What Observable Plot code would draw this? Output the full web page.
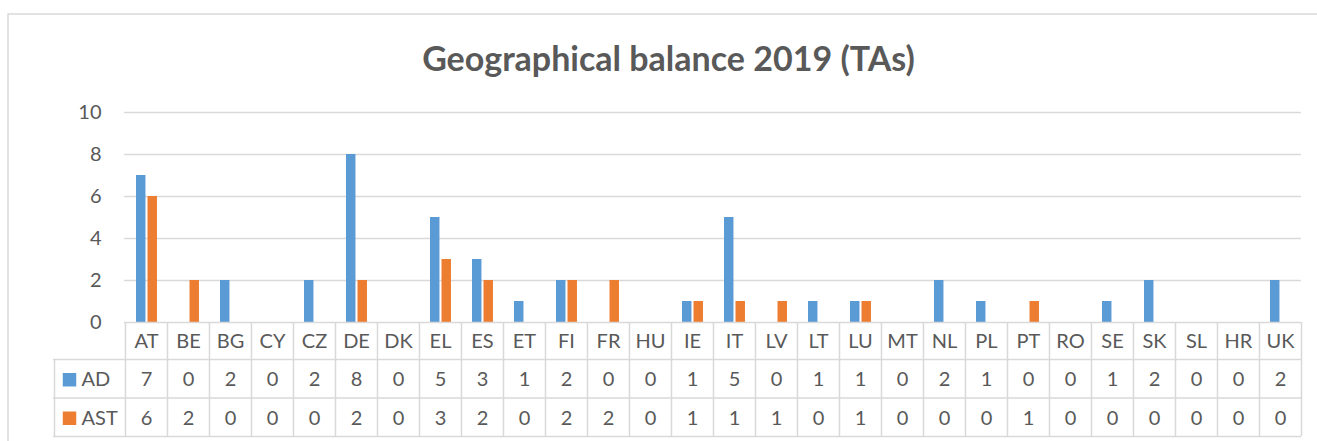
<!DOCTYPE html>
<html>
<head>
<meta charset="utf-8">
<script src="https://cdn.jsdelivr.net/npm/d3@7"></script>
<script src="https://cdn.jsdelivr.net/npm/@observablehq/plot@0.6"></script>
<style>
  html, body { margin: 0; padding: 0; background: #fff; overflow: hidden; }
</style>
</head>
<body>
<div id="chart"></div>
<script>
// ---- data ----
const chartTitle = "Geographical balance 2019 (TAs)";
const countries = ["AT","BE","BG","CY","CZ","DE","DK","EL","ES","ET","FI","FR","HU","IE","IT","LV","LT","LU","MT","NL","PL","PT","RO","SE","SK","SL","HR","UK"];
const AD  = [7,0,2,0,2,8,0,5,3,1,2,0,0,1,5,0,1,1,0,2,1,0,0,1,2,0,0,2];
const AST = [6,2,0,0,0,2,0,3,2,0,2,2,0,1,1,1,0,1,0,0,0,1,0,0,0,0,0,0];
const seriesNames = ["AD", "AST"];
const seriesColors = ["#5B9BD5", "#ED7D31"];
const yTicks = [0, 2, 4, 6, 8, 10];

// ---- layout ----
const W = 1317, H = 441;
const leftPx = 124, rightPx = 1301, topPx = 112, zeroPx = 322;
const unit = (zeroPx - topPx) / 10;
const toY = px => (zeroPx - px) / unit;
const bw = (rightPx - leftPx) / countries.length;
const rowEdgesPx = [322, 359, 397.5, 436];
const headerMid = toY((rowEdgesPx[0] + rowEdgesPx[1]) / 2 + 1);
const rowMids = [toY((rowEdgesPx[1] + rowEdgesPx[2]) / 2 + 1), toY((rowEdgesPx[2] + rowEdgesPx[3]) / 2 + 1)];
const grey = "#D9D9D9", txt = "#595959";
const fs = 20;

const rows = countries.map((c, i) => ({country: c, AD: AD[i], AST: AST[i]}));
const cells = [];
seriesNames.forEach((s, si) => {
  const vals = si === 0 ? AD : AST;
  countries.forEach((c, i) => cells.push({country: c, series: s, value: vals[i], row: si}));
});
const legend = seriesNames.map((s, i) => ({series: s, color: seriesColors[i], row: i}));

const plot = Plot.plot({
  width: W,
  height: H,
  marginLeft: leftPx,
  marginRight: W - rightPx,
  marginTop: topPx,
  marginBottom: H - zeroPx,
  style: {fontFamily: "Lato, sans-serif", color: txt, background: "#fff"},
  x: {type: "band", domain: countries, range: [leftPx, rightPx], padding: 0, axis: null},
  y: {domain: [0, 10], range: [zeroPx, topPx], axis: null},
  marks: [
    // outer chart border
    Plot.frame({stroke: grey, strokeWidth: 1.5, insetLeft: 7.5 - leftPx, insetTop: 13.5 - topPx, insetRight: -30, insetBottom: -(H - zeroPx) - 30}),
    // gridlines
    Plot.ruleY(yTicks.filter(d => d > 0), {stroke: grey, strokeWidth: 1.3}),
    // y tick labels
    Plot.text(yTicks, {y: d => d, text: d => String(d), frameAnchor: "left", dx: -23, textAnchor: "end", fontSize: fs, fill: txt}),
    // bars
    Plot.barY(rows, {x: "country", y: "AD", fill: seriesColors[0], insetLeft: 11, insetRight: bw - 20.5}),
    Plot.barY(rows, {x: "country", y: "AST", fill: seriesColors[1], insetLeft: 22.5, insetRight: bw - 32}),
    // data table: horizontal lines
    Plot.ruleY([0], {stroke: grey, strokeWidth: 1.5}),
    Plot.ruleY([toY(rowEdgesPx[1]), toY(rowEdgesPx[2]), toY(rowEdgesPx[3])], {stroke: grey, strokeWidth: 1.5, insetLeft: 53 - leftPx}),
    // data table: vertical lines
    Plot.ruleX(countries, {x: d => d, y1: toY(rowEdgesPx[3]), y2: 0, dx: -bw / 2, stroke: grey, strokeWidth: 1.5}),
    Plot.ruleX([countries[countries.length - 1]], {x: d => d, y1: toY(rowEdgesPx[3]), y2: 0, dx: bw / 2, stroke: grey, strokeWidth: 1.5}),
    Plot.ruleX([countries[0]], {x: d => d, y1: toY(rowEdgesPx[3]), y2: toY(rowEdgesPx[1]), dx: -bw / 2 + (53 - leftPx), stroke: grey, strokeWidth: 1.5}),
    // header labels
    Plot.text(countries, {x: d => d, y: headerMid, text: d => d, fontSize: fs, fill: txt, lineAnchor: "middle"}),
    // values
    Plot.text(cells, {x: "country", y: d => rowMids[d.row], text: d => String(d.value), fontSize: fs, fill: txt, lineAnchor: "middle"}),
    // legend keys
    Plot.dot(legend, {y: d => rowMids[d.row], frameAnchor: "left", dx: 69 - leftPx, symbol: "square", r: 7.6, fill: d => d.color, stroke: null}),
    Plot.text(legend, {y: d => rowMids[d.row], text: "series", frameAnchor: "left", dx: 81 - leftPx, textAnchor: "start", fontSize: fs, fill: txt, lineAnchor: "middle"}),
    // title
    Plot.text([chartTitle], {frameAnchor: "top", dx: 668 - (leftPx + rightPx) / 2, dy: 60 - topPx, fontSize: 34, fontWeight: "bold", fill: txt, lineAnchor: "middle"})
  ]
});
document.getElementById("chart").appendChild(plot);
</script>
</body>
</html>
